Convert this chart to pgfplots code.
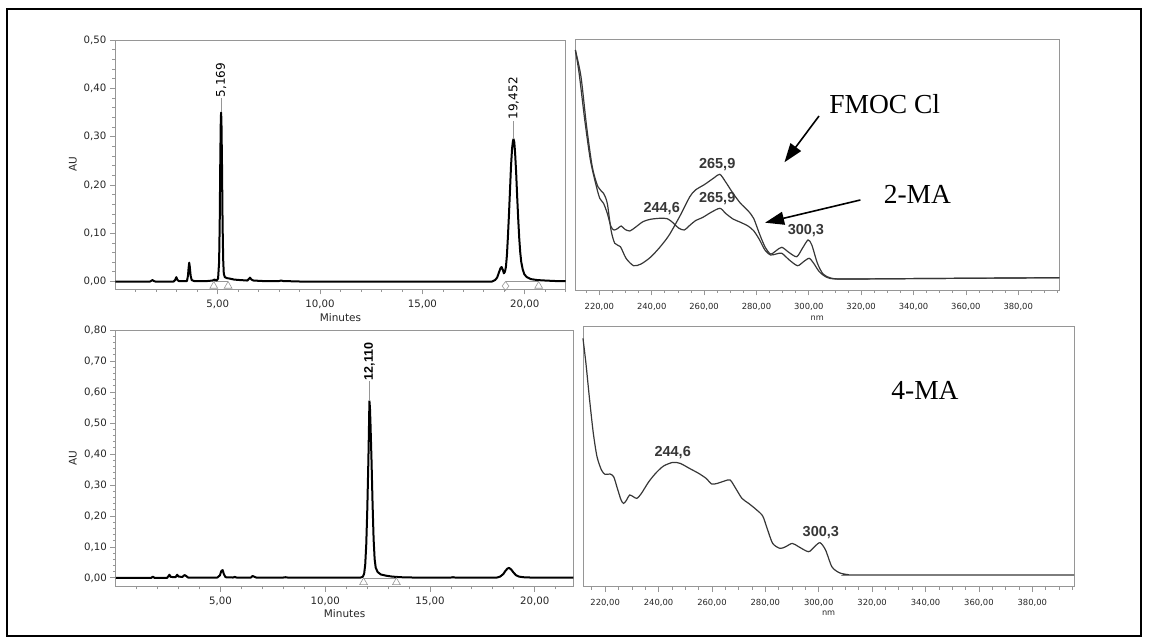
\documentclass[border=0pt]{standalone}
\usepackage{pgfplots}
\pgfplotsset{compat=1.18}
\usepackage{fontspec}
\setmainfont{DejaVu Sans}
\newfontfamily\arialfont{Liberation Sans}
\newfontfamily\timesfont{Liberation Serif}
\usetikzlibrary{arrows.meta}

\definecolor{axgray}{RGB}{150,150,150}
\definecolor{spec}{RGB}{55,55,55}

\tikzset{
  mark peak/.style={font=\fontsize{12}{13}\selectfont, rotate=90, anchor=west, inner sep=1pt, text=black},
  bold peak/.style={font=\arialfont\bfseries\fontsize{14.5}{15}\selectfont, text=spec},
  big label/.style={font=\timesfont\fontsize{27.5}{30}\selectfont, anchor=base},
}
\pgfplotsset{
  panel/.style={
    scale only axis, anchor=south west, clip=false,
    axis line style={axgray, line width=0.9pt},
    tick style={axgray, line width=0.7pt},
    tick align=outside, tick pos=left,
    major tick length=5.5pt, minor tick length=3pt,
    tick label style={font=\fontsize{10.2}{11}\selectfont, text=black!85},
    xticklabel={\pgfmathprintnumber[fixed,fixed zerofill,precision=2,use comma,assume math mode=true]{\tick}},
    yticklabel={\pgfmathprintnumber[fixed,fixed zerofill,precision=2,use comma,assume math mode=true]{\tick}},
    xticklabel style={yshift=-1.5pt},
    label style={font=\fontsize{10.5}{11}\selectfont, text=black!85},
  },
  specpanel/.style={
    panel,
    tick label style={font=\fontsize{8.4}{9}\selectfont, text=black!85},
    label style={font=\fontsize{8.2}{9}\selectfont, text=black!85},
    xticklabel style={yshift=-2.5pt},
  },
  chrom/.style={black, line width=2pt, line join=round},
  spectrum/.style={spec, line width=1.2pt, smooth, tension=0.45},
  integ/.style={only marks, axgray, mark size=4.5pt, mark options={line width=0.6pt, fill=white}},
}

\begin{document}
\begin{tikzpicture}
\useasboundingbox (0,0) rectangle (1149pt,642pt);
\draw[line width=2pt] (7pt,6pt) rectangle (1141pt,633pt);

% top left: chromatogram 2-MA / FMOC Cl
\begin{axis}[panel, at={(115.3pt,353pt)}, width=450.4pt, height=249pt,
  xmin=0, xmax=22, ymin=-0.0155, ymax=0.5,
  xtick={5,10,15,20}, minor xtick={1,2,...,22},
  ytick={0,0.1,0.2,0.3,0.4,0.5}, minor ytick={0.02,0.04,...,0.49},
  xlabel={Minutes}, ylabel={AU},
  xlabel style={at={(axis description cs:0.5,-0.1137)}, anchor=center},
  ylabel style={at={(axis description cs:-0.094,0.5)}, anchor=center}]
\addplot[axgray, line width=0.6pt] coordinates {(4.81,0) (5.51,0)};
\addplot[axgray, line width=0.6pt] coordinates {(19.06,0) (20.68,0)};
\addplot[chrom] coordinates {
(0,0) (1.7,0) (1.78,0.002) (1.82,0.003) (1.88,0.001) (1.95,0) (2.85,0)
(2.92,0.003) (2.98,0.009) (3.04,0.003) (3.1,0.001) (3.5,0.001) (3.55,0.012)
(3.58,0.028) (3.61,0.039) (3.64,0.03) (3.68,0.012) (3.73,0.003) (3.85,0.001)
(4.5,0.001) (4.75,0.002) (4.85,0.004) (4.95,0.002) (5.02,0.006) (5.07,0.04)
(5.1,0.12) (5.13,0.26) (5.155,0.34) (5.169,0.35) (5.185,0.33) (5.21,0.25)
(5.24,0.12) (5.27,0.045) (5.3,0.016) (5.35,0.009) (5.45,0.007) (5.6,0.006)
(5.8,0.004) (6.1,0.003) (6.45,0.002) (6.52,0.005) (6.58,0.008) (6.65,0.004)
(6.75,0.002) (7.2,0.001) (8.0,0.001) (8.1,0.002) (8.2,0.001) (9,0) (18.4,0)
(18.55,0.003) (18.65,0.008) (18.75,0.02) (18.82,0.028) (18.87,0.030)
(18.93,0.024) (18.98,0.017) (19.03,0.02) (19.08,0.03) (19.13,0.055)
(19.18,0.095) (19.23,0.14) (19.28,0.19) (19.33,0.24) (19.38,0.275)
(19.42,0.29) (19.452,0.295) (19.49,0.288) (19.53,0.265) (19.58,0.225)
(19.63,0.175) (19.68,0.13) (19.73,0.09) (19.78,0.06) (19.83,0.04)
(19.9,0.025) (19.98,0.015) (20.1,0.009) (20.3,0.005) (20.6,0.003)
(21,0.002) (21.5,0.001) (22,0.001)};
\addplot[integ, mark=triangle] coordinates {(4.81,-0.0093) (5.51,-0.0093) (20.68,-0.0093)};
\addplot[integ, mark=diamond] coordinates {(19.06,-0.0093)};
\draw[axgray, line width=0.5pt] (axis cs:5.169,0.35) -- ++(0,6.5pt) node[mark peak] {5,169};
\draw[axgray, line width=0.5pt] (axis cs:19.452,0.295) -- ++(0,11pt) node[mark peak] {19,452};
\end{axis}

% top right: spectra
\begin{axis}[specpanel, at={(575.3pt,352pt)}, width=484pt, height=251pt,
  xmin=210.8, xmax=395.7, ymin=0, ymax=251,
  xtick={220,240,...,380}, minor xtick={215,220,...,395}, ytick=\empty,
  xlabel={nm},
  xlabel style={at={(axis description cs:0.5,-0.112)}, anchor=center}]
\addplot[spectrum] coordinates {
(210.82,240) (212.97,213.3) (215.13,163.3) (217.28,123.3) (219.43,103.3)
(221.58,96.7) (223.01,86.7) (224.44,60) (225.88,46.7) (228.03,43.3)
(230.18,31.7) (233.05,24.3) (235.91,26) (239.50,32.7) (243.08,42.7)
(246.67,55) (250.97,75) (254.55,93.3) (256.70,100) (260.29,105.7)
(263.87,112.3) (266.02,115.7) (268.17,108.3) (271.04,96.7) (273.91,86.7)
(276.77,79.3) (278.92,71.7) (281.08,56.7) (283.23,43.3) (285.38,36)
(287.53,39.3) (289.68,42.7) (292.55,37.3) (295.41,33.3) (297.56,41.7)
(299.71,50) (301.15,45) (303.30,26.7) (305.45,16) (308.32,12)
(312.62,11) (334.12,11.3) (395.7,12.3)};
\addplot[spectrum] coordinates {
(210.82,240) (212.26,216.7) (214.41,170) (216.56,130) (218.71,105)
(220.14,91.7) (221.58,86.7) (223.01,76.7) (224.44,63.3) (225.59,60)
(226.88,61.3) (228.32,64) (229.75,60.7) (231.61,59) (233.76,62.7)
(236.63,68.3) (239.50,70.7) (243.08,71.7) (245.95,71.3) (248.10,67.3)
(250.25,62) (252.40,60) (254.55,64.7) (256.70,69.3) (259.57,72.7)
(262.44,77.3) (266.02,81.7) (268.17,76.7) (271.04,71) (273.91,67.7)
(276.77,64) (278.92,59.3) (281.08,50.7) (283.23,40) (285.38,35)
(287.53,36) (289.68,36.7) (292.55,30) (295.70,24.3) (297.99,28.3)
(300.14,31.7) (301.86,26.7) (304.01,18.3) (306.88,12.7) (311.18,11)
(334.12,11.3) (395.7,12.3)};
\node[bold peak] at (axis cs:265,125) {265,9};
\node[bold peak] at (axis cs:265,91) {265,9};
\node[bold peak] at (axis cs:243.8,81) {244,6};
\node[bold peak] at (axis cs:298.9,59.3) {300,3};
\node[big label] at (axis cs:329,176.7) {FMOC Cl};
\node[big label] at (axis cs:341.5,86.7) {2-MA};
\draw[line width=1.6pt, -{Triangle[length=19pt,width=13pt]}] (axis cs:303.9,174) -- (axis cs:290.7,127.7);
\draw[line width=1.6pt, -{Triangle[length=19pt,width=13pt]}] (axis cs:319.7,90) -- (axis cs:283.3,67.3);
\end{axis}

% bottom left: chromatogram 4-MA
\begin{axis}[panel, at={(115.8pt,55.7pt)}, width=457.6pt, height=256.3pt,
  xmin=0, xmax=21.85, ymin=-0.0273, ymax=0.8,
  xtick={5,10,15,20}, minor xtick={1,2,...,21},
  ytick={0,0.1,0.2,0.3,0.4,0.5,0.6,0.7,0.8}, minor ytick={0.02,0.04,...,0.79},
  xlabel={Minutes}, ylabel={AU},
  xlabel style={at={(axis description cs:0.5,-0.105)}, anchor=center},
  ylabel style={at={(axis description cs:-0.094,0.5)}, anchor=center}]
\addplot[axgray, line width=0.6pt] coordinates {(11.83,0) (13.4,0)};
\addplot[chrom] coordinates {
(0,0) (1.7,0) (1.77,0.004) (1.84,0) (2.45,0) (2.52,0.006) (2.56,0.01)
(2.62,0.003) (2.85,0.002) (2.93,0.01) (3.0,0.004) (3.18,0.003) (3.28,0.009)
(3.36,0.006) (3.45,0.001) (4.85,0.001) (4.97,0.008) (5.04,0.022) (5.1,0.025)
(5.16,0.012) (5.24,0.002) (5.6,0.001) (5.68,0.003) (5.76,0.001) (6.45,0.001)
(6.53,0.006) (6.6,0.004) (6.7,0.001) (8.0,0.001) (8.1,0.002) (8.2,0.001)
(11.7,0.001) (11.8,0.004) (11.86,0.014) (11.91,0.043) (11.96,0.109)
(12.01,0.225) (12.06,0.378) (12.085,0.47) (12.11,0.571) (12.135,0.55)
(12.16,0.5) (12.21,0.38) (12.26,0.24) (12.31,0.125) (12.36,0.06)
(12.41,0.033) (12.5,0.019) (12.65,0.011) (12.9,0.007) (13.2,0.004)
(13.6,0.002) (14.2,0.001) (16,0.001) (16.1,0.002) (16.2,0.001) (18.2,0.001)
(18.35,0.004) (18.5,0.012) (18.6,0.022) (18.7,0.03) (18.78,0.032)
(18.88,0.027) (18.98,0.018) (19.1,0.009) (19.25,0.004) (19.45,0.002)
(19.8,0.001) (21.85,0.001)};
\addplot[integ, mark=triangle] coordinates {(11.83,-0.0145) (13.4,-0.0145)};
\draw[axgray, line width=0.5pt] (axis cs:12.11,0.571) -- ++(0,11pt)
  node[mark peak, font=\arialfont\bfseries\fontsize{12.5}{13}\selectfont] {12,110};
\end{axis}

% bottom right: spectrum 4-MA
\begin{axis}[specpanel, at={(583pt,55.3pt)}, width=491.2pt, height=260pt,
  xmin=211.7, xmax=395.7, ymin=0, ymax=260,
  xtick={220,240,...,380}, minor xtick={215,220,...,395}, ytick=\empty,
  xlabel={nm},
  xlabel style={at={(axis description cs:0.5,-0.102)}, anchor=center}]
\addplot[spectrum] coordinates {
(211.69,248.3) (212.80,223.3) (214.18,186.7) (215.57,153.3) (216.95,130)
(218.61,116.7) (220,112.3) (221.80,112.7) (223.19,110) (224.57,98.3)
(225.96,86.7) (226.93,83.3) (228.03,86.7) (229.14,91.7) (230.53,90)
(231.91,88.3) (233.58,93.3) (236.35,105) (239.12,114) (241.89,120.7)
(245.35,124.3) (248.12,123.3) (251.58,118.3) (255.05,113.3) (257.82,108.3)
(259.90,102.7) (261.97,103.3) (264.74,105.7) (266.82,106.7) (268.90,98.3)
(271.25,88.3) (273.75,83.3) (276.52,77.3) (279.01,70.7) (280.68,58.3)
(282.75,43.3) (285.52,38.3) (287.60,40) (290.10,43.3) (292.45,40)
(296.19,35) (298.41,40) (300.49,44) (302.56,36.7) (304.92,20)
(307.69,14) (311.15,12) (315.31,11.7) (395.66,11.7)};
\node[bold peak] at (axis cs:245.3,134.4) {244,6};
\node[bold peak] at (axis cs:300.8,54.4) {300,3};
\node[big label] at (axis cs:339.8,186.7) {4-MA};
\end{axis}
\end{tikzpicture}
\end{document}
